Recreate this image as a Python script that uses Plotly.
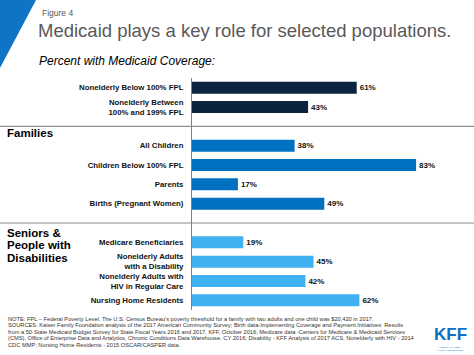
import plotly.graph_objects as go

# ---------------- data ----------------
categories = [
    "Nonelderly Below 100% FPL",
    "Nonelderly Between<br>100% and 199% FPL",
    "All Children",
    "Children Below 100% FPL",
    "Parents",
    "Births (Pregnant Women)",
    "Medicare Beneficiaries",
    "Nonelderly Adults<br>with a Disability",
    "Nonelderly Adults with<br>HIV in Regular Care",
    "Nursing Home Residents",
]
values = [61, 43, 38, 83, 17, 49, 19, 45, 42, 62]
category_group = [0, 0, 1, 1, 1, 1, 2, 2, 2, 2]
group_labels = [[], ["Families"], ["Seniors &", "People with", "Disabilities"]]
group_colors = ["#0c2340", "#0071c1", "#3fb0f2"]

title = "Medicaid plays a key role for selected populations."
figure_label = "Figure 4"
subtitle = "Percent with Medicaid Coverage:"
notes = [
    "NOTE: FPL \u2013 Federal Poverty Level. The U.S. Census Bureau's poverty threshold for a family with two adults and one child was $20,420 in 2017.",
    "SOURCES: Kaiser Family Foundation analysis of the 2017 American Community Survey; Birth data-Implementing Coverage and Payment Initiatives: Results",
    "from a 50-State Medicaid Budget Survey for State Fiscal Years 2016 and 2017, KFF, October 2016; Medicare data -Centers for Medicare & Medicaid Services",
    "(CMS), Office of Enterprise Data and Analytics, Chronic Conditions Data Warehouse, CY 2016; Disability - KFF Analysis of 2017 ACS; Nonelderly with HIV - 2014",
    "CDC MMP; Nursing Home Residents - 2015 OSCAR/CASPER data.",
]

# ---------------- layout helpers ----------------
W, H = 474, 355
L, R, T, B = 192, 12, 78, 45
FONT = "Liberation Sans, Arial, sans-serif"


def px(x):
    return (x - L) / (W - L - R)


def py(y):
    return (H - B - y) / (H - T - B)


# category order with spacer slots before each new group
order = []
spacer_index = {}
prev = None
for cat, g in zip(categories, category_group):
    if prev is not None and g != prev:
        sp = " " * (len(spacer_index) + 1)
        spacer_index[g] = len(order)
        order.append(sp)
    order.append(cat)
    prev = g

colors = [group_colors[g] for g in category_group]

fig = go.Figure(
    go.Bar(
        x=values,
        y=categories,
        orientation="h",
        marker=dict(color=colors, line=dict(width=0)),
        texttemplate="%{x}%",
        textposition="outside",
        textfont=dict(family=FONT, size=8, color="#111111", weight="bold"),
        cliponaxis=False,
        showlegend=False,
        hoverinfo="skip",
    )
)

shapes = []
for g, idx in spacer_index.items():
    shapes.append(dict(type="line", xref="paper", yref="y",
                       x0=px(0), x1=px(W), y0=idx, y1=idx,
                       line=dict(color="#8c8c8c", width=1.2)))
# corner triangle
shapes.append(dict(type="path", xref="paper", yref="paper",
                   path=f"M {px(0)} {py(0)} L {px(36)} {py(0)} L {px(0)} {py(68)} Z",
                   fillcolor="#0f74c6", line=dict(width=0)))

annotations = []


def ann(text, x, y, size, color="#000000", xanchor="left", weight="normal", style="normal"):
    annotations.append(dict(text=text, x=px(x), y=py(y), xref="paper", yref="paper",
                            xanchor=xanchor, yanchor="middle", showarrow=False,
                            font=dict(family=FONT, size=size, color=color,
                                      weight=weight, style=style)))


ann(figure_label, 40, 13, 8.5, "#595959")
ann(title, 36, 31, 18.5, "#595959")
ann(subtitle, 37, 61, 12, "#000000", style="italic")

group_y = {1: 133, 2: 233}
for g, lines in enumerate(group_labels):
    for i, line in enumerate(lines):
        ann(line, 5, group_y[g] + i * 12.4, 11.5, "#000000", weight="bold")

for i, line in enumerate(notes):
    ann(line, 6, 319 + i * 6.4, 5.7, "#333333")

ann("KFF", 450, 334, 17, "#0b6fc3", xanchor="center", weight="bold")
ann("HENRY J KAISER<br>FAMILY FOUNDATION", 450, 349, 2.5, "#0b6fc3", xanchor="center")

fig.update_layout(
    width=W, height=H,
    margin=dict(l=L, r=R, t=T, b=B, pad=0),
    paper_bgcolor="white", plot_bgcolor="white",
    bargap=0.38,
    xaxis=dict(range=[0, 100], visible=False, fixedrange=True),
    yaxis=dict(
        type="category", categoryorder="array", categoryarray=order,
        range=[len(order) - 0.5, -0.5],
        showline=True, linecolor="#7f7f7f", linewidth=1,
        ticks="", showgrid=False, zeroline=False,
        ticklabelstandoff=6,
        tickfont=dict(family=FONT, size=7.8, color="#111111", weight="bold"),
        fixedrange=True,
    ),
    shapes=shapes,
    annotations=annotations,
)

fig.write_html(
    "out.html",
    config={"displayModeBar": False},
    post_script="document.body.style.margin='0';document.body.style.padding='0';",
)
